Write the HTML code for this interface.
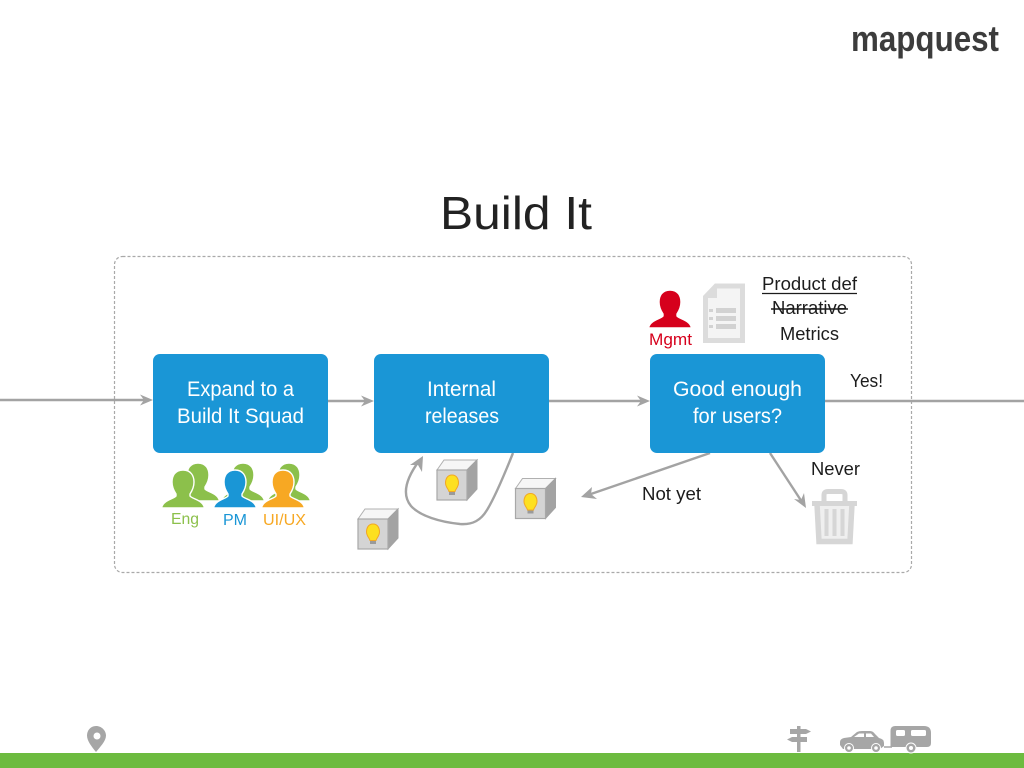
<!DOCTYPE html>
<html>
<head>
<meta charset="utf-8">
<title>Build It</title>
<style>
html,body{margin:0;padding:0;background:#fff;width:1024px;height:768px;overflow:hidden}
svg{display:block}
text{font-family:"Liberation Sans",sans-serif}
</style>
</head>
<body>
<svg width="1024" height="768" viewBox="0 0 1024 768" xmlns="http://www.w3.org/2000/svg">
<defs>
<path id="p" d="M0,0C-8,0-11,6-11,12C-11,17-9,21-7,24L-7,26C-9,29-20,30-21.500,38L21.500,38C20,30 9,29 7,26L7,24C9,21 11,17 11,12C11,6 8,0 0,0Z" stroke="#fff" stroke-width="1.400"/>
<g id="cube">
<path d="M0,0L7,-10L40,-10L30,0Z" fill="#f6f6f6" stroke="#b0b0b0"/>
<path d="M30,0L40,-10L40,19L30,30Z" fill="#a3a3a3" stroke="#a3a3a3"/>
<rect x="0" y="0" width="30" height="30" fill="#d4d4d4" stroke="#a8a8a8" stroke-width="1.200"/>
<rect x="12" y="20" width="6" height="5" fill="#9a9a9a"/>
<path d="M15,5C10,5 8.500,9.500 8.500,13C8.500,17 11.500,19 12,21.500L18,21.500C18.500,19 21.500,17 21.500,13C21.500,9.500 20,5 15,5Z" fill="#fde020" stroke="#f2a823" stroke-width="1"/>
</g>
</defs>

<rect width="1024" height="768" fill="#fff"/>
<rect x="0" y="753" width="1024" height="15" fill="#6dbb3f"/>

<!-- logo -->
<text x="851" y="51" font-size="36" font-weight="bold" fill="#3c3c3c" textLength="148" lengthAdjust="spacingAndGlyphs">mapquest</text>

<!-- title -->
<text x="440" y="229" font-size="46" fill="#222" textLength="152" lengthAdjust="spacingAndGlyphs">Build It</text>

<!-- frame -->
<rect x="114.500" y="256.500" width="797" height="316" rx="8" fill="none" stroke="#a9a9a9" stroke-width="1.200" stroke-dasharray="3 2"/>

<!-- connectors -->
<g stroke="#a3a3a3" stroke-width="2.400" fill="none">
<path d="M0,400H146"/>
<path d="M328,401H368"/>
<path d="M549,401H644"/>
<path d="M825,401H1024"/>
<path d="M710,453L588,495"/>
<path d="M770,453L802,502"/>
<path d="M513,453C505,473 495,497 487,510C481,520 473,525 460,524C440,522 420,516 411,506C402,495 405,480 419,461"/>
</g>
<g fill="#a3a3a3">
<path d="M153,400L140,394.500L144,400L140,405.500Z"/>
<path d="M374,401L361,395.500L365,401L361,406.500Z"/>
<path d="M650,401L637,395.500L641,401L637,406.500Z"/>
<path d="M581,497L592,487L591,494L597,499Z"/>
<path d="M806,508L794,499L801,500L804,493Z"/>
<path d="M423,456L422,472L418,465L410,465Z"/>
</g>

<!-- boxes -->
<g fill="#1a96d6">
<rect x="153" y="354" width="175" height="99" rx="7"/>
<rect x="374" y="354" width="175" height="99" rx="7"/>
<rect x="650" y="354" width="175" height="99" rx="7"/>
</g>
<g fill="#fff" font-size="21" text-anchor="start">
<text x="187" y="396" textLength="107" lengthAdjust="spacingAndGlyphs">Expand to a</text>
<text x="177" y="423" textLength="127" lengthAdjust="spacingAndGlyphs">Build It Squad</text>
<text x="427" y="396" textLength="69" lengthAdjust="spacingAndGlyphs">Internal</text>
<text x="425" y="423" textLength="74" lengthAdjust="spacingAndGlyphs">releases</text>
<text x="673" y="396" textLength="129" lengthAdjust="spacingAndGlyphs">Good enough</text>
<text x="693" y="423" textLength="89" lengthAdjust="spacingAndGlyphs">for users?</text>
</g>

<!-- people -->
<use href="#p" x="198" y="463" fill="#8cc04b"/>
<use href="#p" x="183" y="470" fill="#8cc04b"/>
<use href="#p" x="243" y="463" fill="#8cc04b"/>
<use href="#p" x="235" y="470" fill="#1a96d6"/>
<use href="#p" x="289" y="463" fill="#8cc04b"/>
<use href="#p" x="283" y="470" fill="#f7a823"/>
<text x="171" y="524" font-size="16" fill="#8cc04b" textLength="28" lengthAdjust="spacingAndGlyphs">Eng</text>
<text x="223" y="525" font-size="16" fill="#1a96d6" textLength="24" lengthAdjust="spacingAndGlyphs">PM</text>
<text x="263" y="525" font-size="16" fill="#f7a823" textLength="43" lengthAdjust="spacingAndGlyphs">UI/UX</text>

<!-- cubes -->
<use href="#cube" x="358" y="519"/>
<use href="#cube" x="437" y="470"/>
<use href="#cube" x="515.500" y="488.500"/>

<!-- mgmt -->
<use href="#p" x="670" y="290" fill="#d6001c"/>
<text x="649" y="345" font-size="17" fill="#d6001c" textLength="43" lengthAdjust="spacingAndGlyphs">Mgmt</text>

<!-- document -->
<path d="M716,286H742.500V340.500H705.500V297Z" fill="#f4f4f4" stroke="#dcdcdc" stroke-width="5"/>
<path d="M703,298H717V284Z" fill="#dcdcdc"/>
<g fill="#d2d2d2">
<rect x="716" y="308" width="20" height="5"/>
<rect x="716" y="316" width="20" height="5"/>
<rect x="716" y="324" width="20" height="5"/>
<rect x="709" y="309" width="4" height="3"/>
<rect x="709" y="317" width="4" height="3"/>
<rect x="709" y="325" width="4" height="3"/>
</g>

<!-- product labels -->
<g font-size="18.500" fill="#1c1c1c">
<text x="762" y="290" textLength="95" lengthAdjust="spacingAndGlyphs">Product def</text>
<text x="772" y="314" textLength="75" lengthAdjust="spacingAndGlyphs">Narrative</text>
<text x="780" y="340" textLength="59" lengthAdjust="spacingAndGlyphs">Metrics</text>
<text x="850" y="387" textLength="33" lengthAdjust="spacingAndGlyphs">Yes!</text>
<text x="811" y="475" textLength="49" lengthAdjust="spacingAndGlyphs">Never</text>
<text x="642" y="500" textLength="59" lengthAdjust="spacingAndGlyphs">Not yet</text>
</g>
<path d="M762,293.500H857" stroke="#1c1c1c" stroke-width="1.300"/>
<path d="M771,309H848" stroke="#1c1c1c" stroke-width="1.600"/>

<!-- trash -->
<path d="M818,503H851L849,543H820Z" fill="#efefef"/>
<g fill="none" stroke="#d6d6d6">
<path d="M824,502V495Q824,491.500 828,491.500H841Q845,491.500 845,495V502" stroke-width="5"/>
<path d="M812,503.500H857" stroke-width="5"/>
<path d="M817,504L819,541.500H850L852,504" stroke-width="5.500"/>
<path d="M826.500,509V536M834.500,509V536M842.500,509V536" stroke-width="4"/>
</g>

<!-- pin -->
<path d="M96,726C90,726 87,731 87,735.500C87,741 92,747 96,752C100,747 106,741 106,735.500C106,731 102,726 96,726Z" fill="#a6a6a6"/>
<circle cx="97" cy="736" r="3.500" fill="#fff"/>

<!-- signpost -->
<g fill="#a6a6a6">
<rect x="797" y="726" width="3.500" height="26"/>
<path d="M790,729H806L811,731.500L806,734H790Z"/>
<path d="M792,737H807V742H792L787,739.500Z"/>
</g>

<!-- car -->
<path d="M840,745V742Q840,739 844,738L851,737L857,732Q859,731 862,731H870Q873,731 875,734L879,738Q884,739 884,743V746L880,749H843Z" fill="#a6a6a6"/>
<path d="M854,737L859,733.500H864V737ZM866,733.500H871L874,737H866Z" fill="#fff"/>
<circle cx="849" cy="748" r="4.500" fill="#a6a6a6" stroke="#fff" stroke-width="1"/>
<circle cx="849" cy="748" r="1.800" fill="#fff"/>
<circle cx="876" cy="748" r="4.500" fill="#a6a6a6" stroke="#fff" stroke-width="1"/>
<circle cx="876" cy="748" r="1.800" fill="#fff"/>
<path d="M884,747H892" stroke="#a6a6a6" stroke-width="1.500"/>

<!-- trailer -->
<path d="M895,726H924Q931,726 931,733V743Q931,747 927,747H890.500V731Q890.500,726 895,726Z" fill="#a6a6a6"/>
<rect x="896" y="730" width="9" height="6" rx="1.500" fill="#fff"/>
<rect x="911" y="730" width="15" height="6" rx="1.500" fill="#fff"/>
<circle cx="911" cy="748" r="5" fill="#a6a6a6" stroke="#fff" stroke-width="1"/>
<circle cx="911" cy="748" r="2" fill="#fff"/>
</svg>
</body>
</html>
